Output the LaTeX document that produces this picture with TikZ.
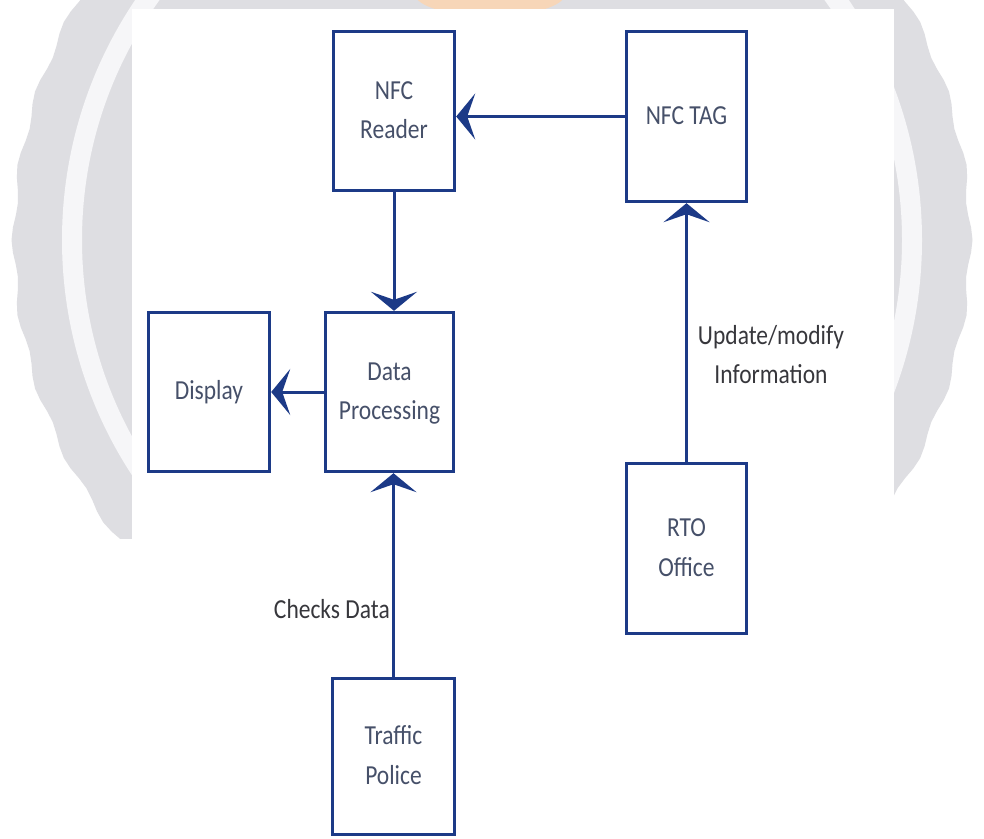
\documentclass[tikz,border=0pt]{standalone}
\usepackage{fontspec}
\usepackage{graphicx}
\setmainfont{Carlito}
\usetikzlibrary{arrows.meta}
\definecolor{navy}{RGB}{28,58,135}
\definecolor{boxtext}{RGB}{70,80,105}
\definecolor{labeltext}{RGB}{55,55,60}
\definecolor{wmgray}{RGB}{222,222,226}
\definecolor{wmwhite}{RGB}{246,246,248}
\definecolor{wmorange}{RGB}{247,214,184}
\newcommand\vst[1]{\scalebox{1}[1.17]{\begin{tabular}{@{}c@{}}#1\end{tabular}}}
\tikzset{
  blk/.style={draw=navy, line width=3.4pt, fill=white, inner sep=0pt,
    text=boxtext, font=\fontsize{23.5}{34}\selectfont},
  conn/.style={draw=navy, line width=3pt,
    -{Stealth[length=19pt,width=46pt,inset=8pt]}},
  lbl/.style={text=labeltext, inner sep=0pt, font=\fontsize{23.5}{34}\selectfont},
}
\begin{document}
\begin{tikzpicture}[x=1pt,y=-1pt]
\useasboundingbox (0,0) rectangle (984,838);
\fill[white] (0,0) rectangle (984,838);
% watermark
\begin{scope}
  \clip (0,0) rectangle (984,538);
  \fill[wmgray] plot[domain=0:360, samples=241, variable=\t]
    ({492+(478+2.5*cos(40*\t))*cos(\t)}, {240+(478+2.5*cos(40*\t))*sin(\t)}) -- cycle;
  \fill[wmwhite, even odd rule] (492,240) circle[radius=430] (492,240) circle[radius=410];
  \fill[wmorange] (490,-6) ellipse[x radius=75, y radius=22];
\end{scope}
\fill[white] (132,9) rectangle (894,542);
% blocks
\node[blk, minimum width=121pt, minimum height=159pt] (reader) at (394,111) {\vst{NFC\\Reader}};
\node[blk, minimum width=120pt, minimum height=170pt] (tag) at (686.5,116.5) {\vst{NFC TAG}};
\node[blk, minimum width=121pt, minimum height=159pt] (display) at (209,392) {\vst{Display}};
\node[blk, minimum width=128pt, minimum height=159pt] (proc) at (389.5,392) {\vst{Data\\Processing}};
\node[blk, minimum width=120pt, minimum height=170pt] (rto) at (686.5,548.5) {\vst{RTO\\Office}};
\node[blk, minimum width=122pt, minimum height=156pt] (police) at (393.5,756.5) {\vst{Traffic\\Police}};
% connectors
\draw[conn] (tag.west) -- (tag.west -| reader.east);
\draw[conn] (reader.south) -- (reader.south |- proc.north);
\draw[conn] (proc.west) -- (proc.west -| display.east);
\draw[conn] (police.north) -- (police.north |- proc.south);
\draw[conn] (rto.north) -- (tag.south);
% labels
\node[lbl, anchor=east] (checks) at (390,611) {\vst{Checks Data}};
\node[lbl] (update) at (771,356) {\vst{Update/modify\\Information}};
\end{tikzpicture}
\end{document}
